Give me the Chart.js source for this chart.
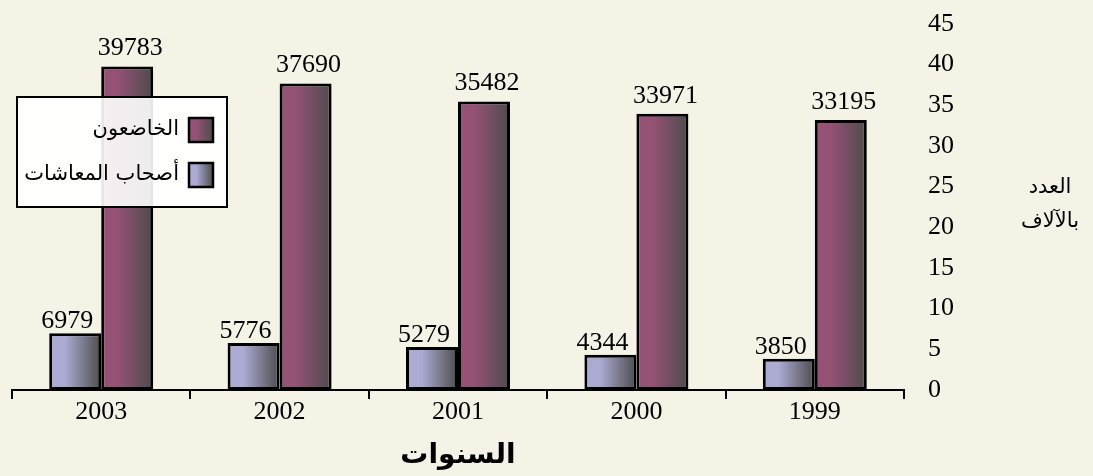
<!DOCTYPE html>
<html><head><meta charset="utf-8">
<script src="https://cdn.jsdelivr.net/npm/chart.js@4.4.1/dist/chart.umd.min.js"></script>
<style>html,body{margin:0;padding:0;background:#F5F3E6;overflow:hidden}</style>
</head><body>
<canvas id="c" width="1093" height="476"></canvas>
<script>
// ---- data ----
const categories = ['2003', '2002', '2001', '2000', '1999'];
const pensioners = [6979, 5776, 5279, 4344, 3850];      // أصحاب المعاشات
const subjects   = [39783, 37690, 35482, 33971, 33195]; // الخاضعون
const seriesNames = ['أصحاب المعاشات', 'الخاضعون'];
const yTickLabels = ['0', '5', '10', '15', '20', '25', '30', '35', '40', '45'];
const xTitle = 'السنوات';
const yTitle = ['العدد', 'بالآلاف'];

// ---- styles ----
const BG = '#F5F3E6';
const baseColors = ['#ABABD4', '#955275'];
const darkEnd = '#4c4c4c';
const numFont = '26px "Liberation Serif", "Times New Roman", serif';
const arFont = '"DejaVu Sans", sans-serif';

function makeGrad(ctx, x0, x1, base) {
  const g = ctx.createLinearGradient(x0, 0, x1, 0);
  g.addColorStop(0, base);
  g.addColorStop(0.3, base);
  g.addColorStop(1, darkEnd);
  return g;
}

const bgPlugin = {
  id: 'bg',
  beforeDraw(chart) {
    const c = chart.ctx;
    c.save(); c.fillStyle = BG; c.fillRect(0, 0, chart.width, chart.height); c.restore();
  }
};

const gradPlugin = {
  id: 'grad',
  beforeDatasetsDraw(chart) {
    chart.data.datasets.forEach((ds, di) => {
      chart.getDatasetMeta(di).data.forEach(el => {
        el.options.backgroundColor = makeGrad(chart.ctx, el.x - el.width / 2, el.x + el.width / 2, baseColors[di]);
      });
    });
  }
};

const labelPlugin = {
  id: 'vlabels',
  afterDatasetsDraw(chart) {
    const c = chart.ctx;
    c.save();
    c.font = numFont; c.fillStyle = '#000'; c.textAlign = 'center'; c.textBaseline = 'alphabetic';
    chart.data.datasets.forEach((ds, di) => {
      chart.getDatasetMeta(di).data.forEach((el, i) => {
        const dx = di === 0 ? -8 : 3;
        const dy = di === 0 ? 5 : 11;
        c.fillText(String(ds.data[i]), el.x + dx, el.y - dy);
      });
    });
    c.restore();
  }
};

const decoPlugin = {
  id: 'deco',
  afterDraw(chart) {
    const c = chart.ctx;
    const ca = chart.chartArea;
    c.save();
    // legend box
    c.fillStyle = 'rgba(255,255,255,0.9)';
    c.fillRect(17, 97, 210, 110);
    c.lineWidth = 2; c.strokeStyle = '#000';
    c.strokeRect(17, 97, 210, 110);
    const items = [1, 0];
    const rows = [130, 175];
    items.forEach((di, k) => {
      const y = rows[k];
      const sx = 189, sw = 24;
      c.fillStyle = makeGrad(c, sx, sx + sw, baseColors[di]);
      c.fillRect(sx, y - sw / 2, sw, sw);
      c.lineWidth = 2.5; c.strokeStyle = '#000';
      c.strokeRect(sx, y - sw / 2, sw, sw);
      c.fillStyle = '#000';
      c.font = '21px ' + arFont;
      c.direction = 'rtl';
      c.textAlign = 'right';
      c.textBaseline = 'middle';
      c.fillText(seriesNames[di], 179, y);
    });
    // x title
    c.direction = 'rtl';
    c.font = 'bold 28px ' + arFont;
    c.textAlign = 'center'; c.textBaseline = 'middle';
    c.fillText(xTitle, (ca.left + ca.right) / 2, 456);
    // y title
    c.font = '21px ' + arFont;
    c.fillText(yTitle[0], 1050, 188);
    c.fillText(yTitle[1], 1050, 222);
    c.restore();
  }
};

new Chart(document.getElementById('c'), {
  type: 'bar',
  data: {
    labels: categories,
    datasets: [
      { label: seriesNames[0], data: pensioners, backgroundColor: () => baseColors[0], borderColor: '#000', borderWidth: 3, borderSkipped: false },
      { label: seriesNames[1], data: subjects, backgroundColor: () => baseColors[1], borderColor: '#000', borderWidth: 3, borderSkipped: false }
    ]
  },
  options: {
    responsive: false,
    animation: false,
    devicePixelRatio: 1,
    layout: { autoPadding: false, padding: { left: 12, top: 24, right: 0, bottom: 0 } },
    datasets: { bar: { categoryPercentage: 0.583, barPercentage: 1.0 } },
    plugins: { legend: { display: false }, tooltip: { enabled: false } },
    scales: {
      x: {
        grid: { display: true, drawOnChartArea: false, drawTicks: true, tickLength: 9, color: '#000', lineWidth: 2, offset: true },
        border: { display: true, color: '#000', width: 2 },
        ticks: { color: '#000', font: { family: '"Liberation Serif", "Times New Roman", serif', size: 26, lineHeight: 1 }, padding: 0, maxRotation: 0 },
        afterFit(s) { s.height = 86; s.paddingLeft = 0; s.paddingRight = 0; }
      },
      y: {
        position: 'right',
        min: 0, max: 45000,
        grid: { display: false, drawTicks: false },
        border: { display: false },
        ticks: {
          stepSize: 5000, color: '#000', padding: 24,
          font: { family: '"Liberation Serif", "Times New Roman", serif', size: 26, lineHeight: 1 },
          callback: (v, i) => yTickLabels[i]
        },
        afterFit(s) { s.width = 189; s.paddingTop = 0; s.paddingBottom = 0; }
      }
    }
  },
  plugins: [bgPlugin, gradPlugin, labelPlugin, decoPlugin]
});
</script>
</body></html>
